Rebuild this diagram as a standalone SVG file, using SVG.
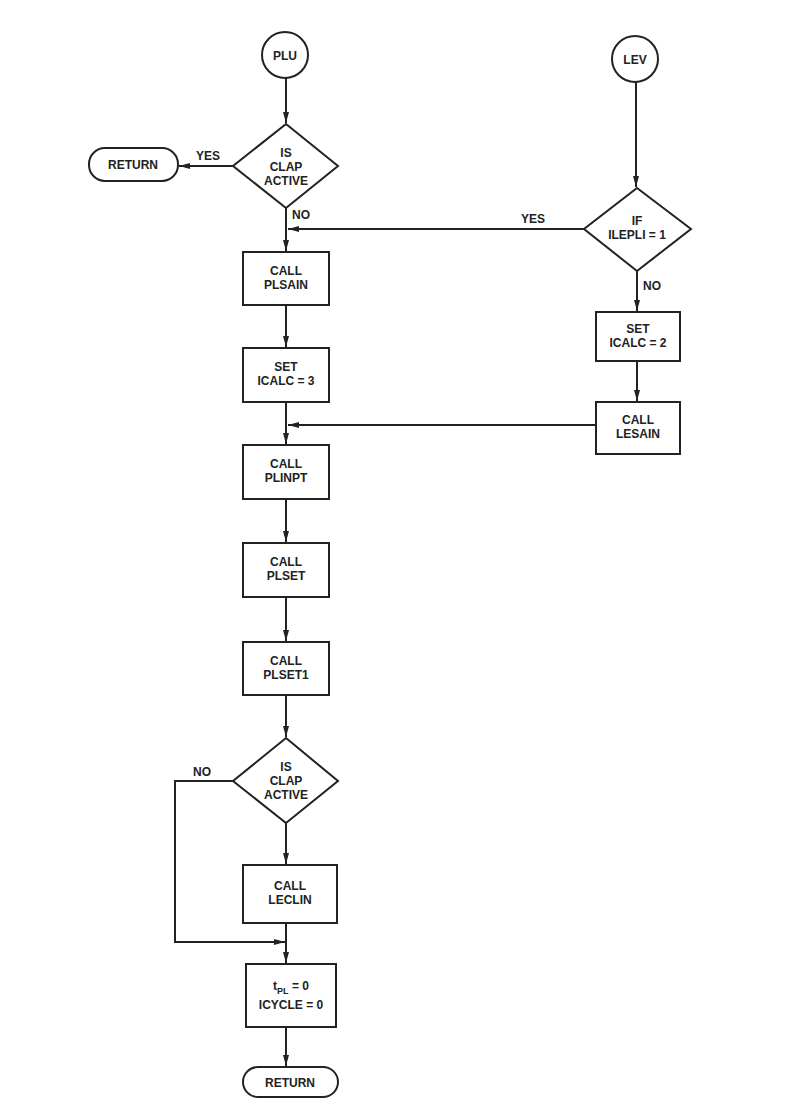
<svg xmlns="http://www.w3.org/2000/svg" width="787" height="1114" viewBox="0 0 787 1114">
<style>
.s{fill:none;stroke:#222;stroke-width:2}
.n{fill:#fff;stroke:#222;stroke-width:2}
text{font-family:"Liberation Sans",Arial,sans-serif;font-size:12px;font-weight:bold;fill:#222;text-anchor:middle}
.l{text-anchor:start}
</style>
<defs>
<marker id="a" markerWidth="12" markerHeight="8" refX="11" refY="4" orient="auto" markerUnits="userSpaceOnUse">
<path d="M0,1 L11,4 L0,7 Z" fill="#222"/>
</marker>
</defs>
<rect width="787" height="1114" fill="#fff"/>
<g id="connectors">
<path class="s" d="M286,78 V123" marker-end="url(#a)"/>
<path class="s" d="M233,166 H179" marker-end="url(#a)"/>
<path class="s" d="M286,208 V251" marker-end="url(#a)"/>
<path class="s" d="M636,82 V187" marker-end="url(#a)"/>
<path class="s" d="M584,229 H288" marker-end="url(#a)"/>
<path class="s" d="M637,271 V311" marker-end="url(#a)"/>
<path class="s" d="M637,361 V401" marker-end="url(#a)"/>
<path class="s" d="M596,425 H288" marker-end="url(#a)"/>
<path class="s" d="M286,305 V347" marker-end="url(#a)"/>
<path class="s" d="M286,402 V444" marker-end="url(#a)"/>
<path class="s" d="M286,499 V542" marker-end="url(#a)"/>
<path class="s" d="M286,597 V641" marker-end="url(#a)"/>
<path class="s" d="M286,695 V737" marker-end="url(#a)"/>
<path class="s" d="M286,823 V864" marker-end="url(#a)"/>
<path class="s" d="M233,781 H175 V942 H285" marker-end="url(#a)"/>
<path class="s" d="M286,923 V963" marker-end="url(#a)"/>
<path class="s" d="M286,1027 V1066" marker-end="url(#a)"/>
<text x="208" y="160">YES</text>
<text class="l" x="292" y="219">NO</text>
<text x="533" y="223">YES</text>
<text class="l" x="643" y="290">NO</text>
<text x="202" y="776">NO</text>
</g>
<g id="plu"><circle class="n" cx="285" cy="55" r="23"/><text x="285" y="60">PLU</text></g>
<g id="lev"><circle class="n" cx="635" cy="59" r="23"/><text x="635" y="64">LEV</text></g>
<g id="d1"><path class="n" d="M286,124 L338,166 L286,208 L233,166 Z"/><text x="286" y="157">IS</text><text x="286" y="171">CLAP</text><text x="286" y="185">ACTIVE</text></g>
<g id="ret1"><rect class="n" x="89" y="148" width="89" height="33" rx="16"/><text x="133" y="169">RETURN</text></g>
<g id="d2"><path class="n" d="M637,188 L691,229 L637,271 L584,229 Z"/><text x="637" y="225">IF</text><text x="637" y="239">ILEPLI = 1</text></g>
<g id="plsain"><rect class="n" x="243" y="252" width="86" height="53"/><text x="286" y="275">CALL</text><text x="286" y="289">PLSAIN</text></g>
<g id="set3"><rect class="n" x="243" y="348" width="86" height="54"/><text x="286" y="371">SET</text><text x="286" y="385">ICALC = 3</text></g>
<g id="set2"><rect class="n" x="596" y="312" width="84" height="49"/><text x="638" y="333">SET</text><text x="638" y="347">ICALC = 2</text></g>
<g id="lesain"><rect class="n" x="596" y="402" width="84" height="52"/><text x="638" y="424">CALL</text><text x="638" y="438">LESAIN</text></g>
<g id="plinpt"><rect class="n" x="243" y="445" width="86" height="54"/><text x="286" y="468">CALL</text><text x="286" y="482">PLINPT</text></g>
<g id="plset"><rect class="n" x="243" y="543" width="86" height="54"/><text x="286" y="566">CALL</text><text x="286" y="580">PLSET</text></g>
<g id="plset1"><rect class="n" x="243" y="642" width="86" height="53"/><text x="286" y="665">CALL</text><text x="286" y="679">PLSET1</text></g>
<g id="d3"><path class="n" d="M286,738 L338,781 L286,823 L233,781 Z"/><text x="286" y="771">IS</text><text x="286" y="785">CLAP</text><text x="286" y="799">ACTIVE</text></g>
<g id="leclin"><rect class="n" x="243" y="865" width="94" height="58"/><text x="290" y="890">CALL</text><text x="290" y="904">LECLIN</text></g>
<g id="tpl"><rect class="n" x="246" y="964" width="90" height="63"/><text x="291" y="990">t<tspan font-size="9" dy="4">PL</tspan><tspan dy="-4"> = 0</tspan></text><text x="291" y="1009">ICYCLE = 0</text></g>
<g id="ret2"><rect class="n" x="243" y="1067" width="95" height="30" rx="15"/><text x="290" y="1087">RETURN</text></g>
</svg>
